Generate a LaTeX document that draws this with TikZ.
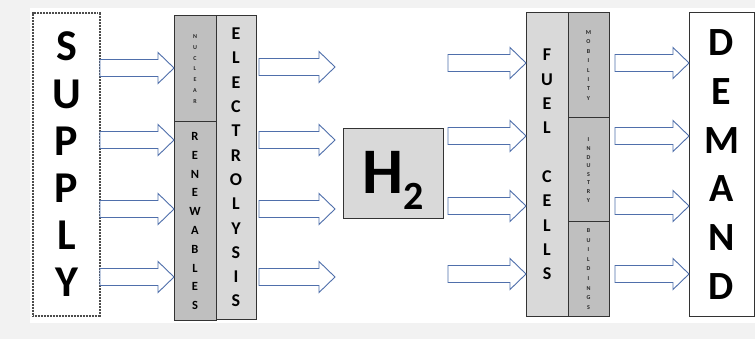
\documentclass[tikz,border=0pt]{standalone}
\usepackage{fontspec}
\setmainfont{Carlito}
\usetikzlibrary{calc}
\definecolor{arrowblue}{HTML}{4F6FAB}
\definecolor{darkcol}{HTML}{BFBFBF}
\definecolor{lightcol}{HTML}{D9D9D9}
\definecolor{bordercol}{HTML}{333333}
\definecolor{bgcol}{HTML}{F2F2F2}
\tikzset{
  colbox/.style={draw=bordercol, line width=1pt, inner sep=0pt, outer sep=0pt, align=center},
  bigbox/.style={draw=bordercol, line width=1pt, fill=white, inner sep=0pt, outer sep=0pt, align=center},
  fat/.style={draw=arrowblue, fill=white, line width=0.9pt, line join=miter,
    to path={let \p1=(\tikztostart), \p2=(\tikztotarget) in
      (\x1,{\y1+8.5pt}) -- ({\x2-16pt},{\y1+8.5pt}) -- ({\x2-16pt},{\y1+15.5pt}) -- (\x2,\y1)
      -- ({\x2-16pt},{\y1-15.5pt}) -- ({\x2-16pt},{\y1-8.5pt}) -- (\x1,{\y1-8.5pt}) -- cycle}},
  bigletters/.style={font=\bfseries\fontsize{44}{47.2}\selectfont},
  midletters/.style={font=\bfseries\fontsize{18}{24.3}\selectfont},
  tiny/.style={font=\bfseries\fontsize{6}{#1}\selectfont, text=black!85}
}
\begin{document}
\begin{tikzpicture}[x=1pt,y=-1pt]
\useasboundingbox (0,0) rectangle (755,339);
\fill[bgcol] (0,0) rectangle (755,339);
\fill[white] (30,8) rectangle (755,323);

% big boxes
\node[bigbox, dash pattern=on 1pt off 0.5pt, line width=1.4pt, draw=black!70,
      minimum width=67pt, minimum height=303pt, bigletters] (supply) at (66.5,164.5) {S\\U\\P\\P\\L\\Y};
\node[bigbox, minimum width=65pt, minimum height=303pt,
      font=\bfseries\fontsize{40}{48.8}\selectfont] (demand) at (721.5,164.5) {D\\E\\M\\A\\N\\D};

% left columns
\node[colbox, fill=darkcol, minimum width=42pt, minimum height=106pt, tiny=10.8] (nuc) at (195,69) {N\\U\\C\\L\\E\\A\\R};
\node[colbox, fill=darkcol, minimum width=42pt, minimum height=198pt,
      font=\bfseries\fontsize{12.5}{18.8}\selectfont] (ren) at (195,221) {R\\E\\N\\E\\W\\A\\B\\L\\E\\S};
\node[colbox, fill=lightcol, minimum width=40pt, minimum height=303pt, midletters] (elec) at (236,167.5)
      {E\\L\\E\\C\\T\\R\\O\\L\\Y\\S\\I\\S};

% H2
\node[colbox, fill=lightcol, minimum width=100pt, minimum height=90pt] (h2) at (393,174) {};
\node[anchor=base west, inner sep=0pt, font=\bfseries\fontsize{65}{65}\selectfont] (h2text) at (362,194)
      {H\raisebox{-16pt}{\fontsize{40}{40}\selectfont 2}};

% right columns
\node[colbox, fill=lightcol, minimum width=42pt, minimum height=303pt, midletters] (fuel) at (547,164.5)
      {F\\U\\E\\L\\[24.3pt]C\\E\\L\\L\\S};
\node[colbox, fill=darkcol, minimum width=41pt, minimum height=105pt, tiny=9.4] (mob) at (588.5,65.5) {M\\O\\B\\I\\L\\I\\T\\Y};
\node[colbox, fill=darkcol, minimum width=41pt, minimum height=104pt, tiny=8.6] (ind) at (588.5,170) {I\\N\\D\\U\\S\\T\\R\\Y};
\node[colbox, fill=darkcol, minimum width=41pt, minimum height=94pt, tiny=9.6] (bld) at (588.5,269) {B\\U\\I\\L\\D\\I\\N\\G\\S};

% row levels
\coordinate (l1) at (0,68);  \coordinate (l2) at (0,140);
\coordinate (l3) at (0,209); \coordinate (l4) at (0,277);
\coordinate (r1) at (0,63);  \coordinate (r2) at (0,136);
\coordinate (r3) at (0,206); \coordinate (r4) at (0,274);

% free ends
\coordinate (ea1) at (259,67);  \coordinate (eb1) at (335,67);
\coordinate (ea2) at (259,140); \coordinate (eb2) at (335,140);
\coordinate (ea3) at (259,209); \coordinate (eb3) at (335,209);
\coordinate (ea4) at (259,277); \coordinate (eb4) at (335,277);
\coordinate (fa1) at (448,63);  \coordinate (fa2) at (448,136);
\coordinate (fa3) at (448,206); \coordinate (fa4) at (448,274);
\coordinate (da1) at (615,63);  \coordinate (da2) at (615,136);
\coordinate (da3) at (615,206); \coordinate (da4) at (615,274);

% supply arrows
\draw[fat] (supply.east |- l1) to (nuc.west |- l1);
\draw[fat] (supply.east |- l2) to (ren.west |- l2);
\draw[fat] (supply.east |- l3) to (ren.west |- l3);
\draw[fat] (supply.east |- l4) to (ren.west |- l4);
% electrolysis arrows
\draw[fat] (ea1) to (eb1);
\draw[fat] (ea2) to (eb2);
\draw[fat] (ea3) to (eb3);
\draw[fat] (ea4) to (eb4);
% fuel cell arrows
\draw[fat] (fa1) to (fuel.west |- r1);
\draw[fat] (fa2) to (fuel.west |- r2);
\draw[fat] (fa3) to (fuel.west |- r3);
\draw[fat] (fa4) to (fuel.west |- r4);
% demand arrows
\draw[fat] (da1) to (demand.west |- r1);
\draw[fat] (da2) to (demand.west |- r2);
\draw[fat] (da3) to (demand.west |- r3);
\draw[fat] (da4) to (demand.west |- r4);
\end{tikzpicture}
\end{document}
